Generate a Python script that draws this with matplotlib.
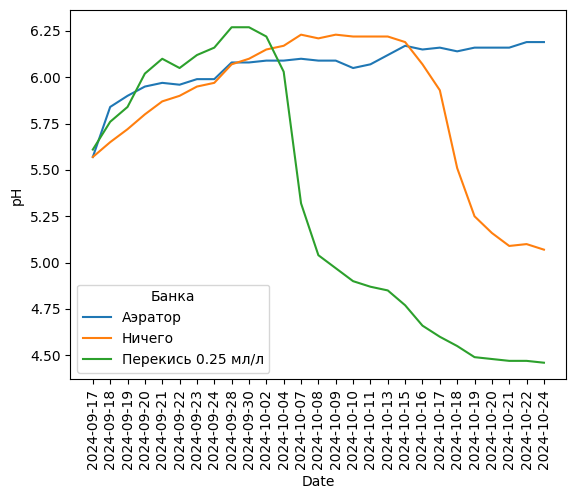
import matplotlib
matplotlib.use("Agg")
import matplotlib.pyplot as plt

dates = ["2024-09-17", "2024-09-18", "2024-09-19", "2024-09-20", "2024-09-21",
         "2024-09-22", "2024-09-23", "2024-09-24", "2024-09-28", "2024-09-30",
         "2024-10-02", "2024-10-04", "2024-10-07", "2024-10-08", "2024-10-09",
         "2024-10-10", "2024-10-11", "2024-10-13", "2024-10-15", "2024-10-16",
         "2024-10-17", "2024-10-18", "2024-10-19", "2024-10-20", "2024-10-21",
         "2024-10-22", "2024-10-24"]

aerator = [5.57, 5.84, 5.90, 5.95, 5.97, 5.96, 5.99, 5.99, 6.08, 6.08,
           6.09, 6.09, 6.10, 6.09, 6.09, 6.05, 6.07, 6.12, 6.17, 6.15,
           6.16, 6.14, 6.16, 6.16, 6.16, 6.19, 6.19]
nothing = [5.57, 5.65, 5.72, 5.80, 5.87, 5.90, 5.95, 5.97, 6.07, 6.10,
           6.15, 6.17, 6.23, 6.21, 6.23, 6.22, 6.22, 6.22, 6.19, 6.07,
           5.93, 5.51, 5.25, 5.16, 5.09, 5.10, 5.07]
peroxide = [5.61, 5.76, 5.84, 6.02, 6.10, 6.05, 6.12, 6.16, 6.27, 6.27,
            6.22, 6.03, 5.32, 5.04, 4.97, 4.90, 4.87, 4.85, 4.77, 4.66,
            4.60, 4.55, 4.49, 4.48, 4.47, 4.47, 4.46]

fig = plt.figure(figsize=(5.76, 4.99), dpi=100)
ax = fig.add_axes([0.122, 0.2395, 0.8615, 0.7395])

ax.plot(dates, aerator, label="Аэратор")
ax.plot(dates, nothing, label="Ничего")
ax.plot(dates, peroxide, label="Перекись 0.25 мл/л")

ax.set_xlabel("Date")
ax.set_ylabel("pH")
ax.tick_params(axis="x", labelrotation=90)
ax.legend(title="Банка", loc="lower left")

fig.savefig("out.png", dpi=100)
